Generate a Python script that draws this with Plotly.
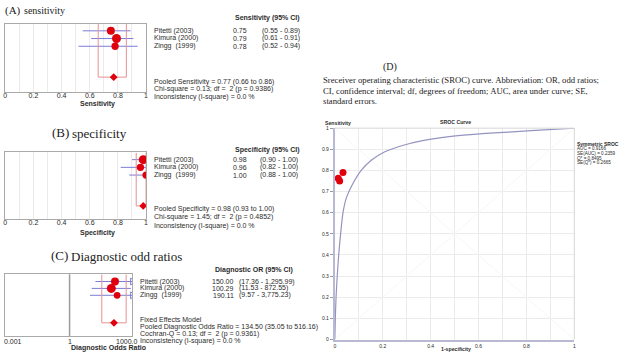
import plotly.graph_objects as go

W, H = 623, 357
def px(x): return x / W
def py(y): return 1 - y / H

# ---------------- data ----------------
studies = ["Pitetti (2003)", "Kimura (2000)", "Zingg  (1999)"]

sens = [0.75, 0.79, 0.78]
sens_lo = [0.55, 0.61, 0.52]
sens_hi = [0.89, 0.91, 0.94]
sens_pool = [0.77, 0.66, 0.86]

spec = [0.98, 0.96, 1.00]
spec_lo = [0.90, 0.82, 0.88]
spec_hi = [1.00, 1.00, 1.00]
spec_pool = [0.98, 0.93, 1.00]

dor = [150.00, 100.29, 190.11]
dor_lo = [17.36, 11.53, 9.57]
dor_hi = [1295.99, 872.55, 3775.23]
dor_pool = [134.50, 35.05, 516.16]

sroc_curve_fpr = [0.0, 0.002, 0.005, 0.01, 0.016, 0.024, 0.034, 0.048, 0.069, 0.11,
                  0.152, 0.207, 0.283, 0.366, 0.477, 0.63, 0.82, 1.0]
sroc_curve_sens = [0.0, 0.1, 0.2, 0.3, 0.4, 0.5, 0.6, 0.67, 0.724, 0.80,
                   0.848, 0.887, 0.918, 0.941, 0.96, 0.975, 0.988, 1.0]
sroc_pt_fpr = [0.02, 0.034, 0.014]
sroc_pt_sens = [0.75, 0.79, 0.763]

sroc_stats = ["AUC = 0.9166", "SE(AUC) = 0.2359", "Q* = 0.8495", "SE(Q*) = 0.2665"]

# ---------------- styles ----------------
RED = "#e0000b"
CI = "#7c7cd6"
POOLBOX = "#e79191"
FRAME = "#a9a9a9"
GRID = "#ebebeb"
TXT = "#2b2b2b"
SANS = "Liberation Sans, Arial, sans-serif"
SERIF = "Liberation Serif, Times New Roman, serif"
size_A = [8, 9, 7.3]
size_B = [9, 7.3, 7.3]
size_C = [8, 9, 6.8]

rows = [0, 1, 2]
POOL_ROW = 6

fig = go.Figure()

def forest(xn, yn, vals, lo, hi, pool, sizes, ytop, xmax=None):
    for i in rows:
        h = hi[i] if xmax is None else min(hi[i], xmax)
        fig.add_trace(go.Scatter(x=[lo[i], h], y=[i, i], mode="lines",
                                 line=dict(color=CI, width=1), xaxis=xn, yaxis=yn,
                                 showlegend=False, hoverinfo="skip"))
        if xmax is not None and hi[i] > xmax:
            fig.add_trace(go.Scatter(x=[xmax], y=[i], mode="markers",
                                     marker=dict(symbol="triangle-right-open", size=6,
                                                 color=CI, line=dict(width=1)),
                                     xaxis=xn, yaxis=yn, showlegend=False, hoverinfo="skip"))
    fig.add_trace(go.Scatter(x=[pool[1], pool[1], pool[2], pool[2]],
                             y=[ytop, POOL_ROW, POOL_ROW, ytop], mode="lines",
                             line=dict(color=POOLBOX, width=1), xaxis=xn, yaxis=yn,
                             showlegend=False, hoverinfo="skip"))
    fig.add_trace(go.Scatter(x=vals, y=rows, mode="markers",
                             marker=dict(color=RED, size=sizes, opacity=1, line=dict(width=0)),
                             xaxis=xn, yaxis=yn, showlegend=False, hoverinfo="skip"))
    fig.add_trace(go.Scatter(x=[pool[0]], y=[POOL_ROW], mode="markers",
                             marker=dict(color=RED, size=6, opacity=1, symbol="diamond", line=dict(width=0)),
                             xaxis=xn, yaxis=yn, showlegend=False, hoverinfo="skip"))

yrA = [7.95, -0.93]
yrB = [7.73, -0.93]
yrC = [7.96, -1.04]

forest("x", "y", sens, sens_lo, sens_hi, sens_pool, size_A, yrA[1])
forest("x2", "y2", spec, spec_lo, spec_hi, spec_pool, size_B, yrB[1])
forest("x3", "y3", dor, dor_lo, dor_hi, dor_pool, size_C, yrC[1], xmax=1000)

# SROC
for xs, ys in (([0, 1], [0, 1]), ([0, 1], [1, 0])):
    fig.add_trace(go.Scatter(x=xs, y=ys, mode="lines", line=dict(color="#f6f6f6", width=1),
                             xaxis="x4", yaxis="y4", showlegend=False, hoverinfo="skip"))
fig.add_trace(go.Scatter(x=sroc_curve_fpr, y=sroc_curve_sens, mode="lines",
                         line=dict(color="#9494c0", width=1.2, shape="spline", smoothing=0.5),
                         xaxis="x4", yaxis="y4", showlegend=False, hoverinfo="skip"))
fig.add_trace(go.Scatter(x=sroc_pt_fpr, y=sroc_pt_sens, mode="markers",
                         marker=dict(color=RED, size=7, opacity=1, line=dict(width=0)),
                         xaxis="x4", yaxis="y4", showlegend=False, hoverinfo="skip"))

tickf = dict(family=SANS, size=7, color=TXT)
frame_ax = dict(showline=True, mirror=True, linecolor=FRAME, linewidth=1, zeroline=False)

def lin_x(dom):
    return dict(domain=dom, range=[0, 1], dtick=0.2, tick0=0, showgrid=True, gridcolor=GRID,
                gridwidth=1, minor=dict(dtick=0.1, showgrid=True, gridcolor=GRID),
                ticks="", tickfont=tickf, ticklabelstandoff=-4, fixedrange=True, **frame_ax)

def row_y(dom, rng, xa):
    return dict(domain=dom, range=rng, showgrid=False, showticklabels=False, ticks="",
                anchor=xa, **frame_ax)

fig.update_layout(
    width=W, height=H, margin=dict(l=0, r=0, t=0, b=0),
    paper_bgcolor="white", plot_bgcolor="white", showlegend=False,
    xaxis=dict(**lin_x([px(3.3), px(145)]), anchor="y"),
    yaxis=row_y([py(90.7), py(21)], yrA, "x"),
    xaxis2=dict(**lin_x([px(3.3), px(145)]), anchor="y2"),
    yaxis2=row_y([py(220), py(152)], yrB, "x2"),
    xaxis3=dict(domain=[px(3), px(131)], type="log", range=[-3.095, 3.0],
                showgrid=False, showticklabels=False, ticks="", anchor="y3", **frame_ax),
    yaxis3=row_y([py(339), py(276)], yrC, "x3"),
    xaxis4=dict(domain=[px(335), px(576)], range=[0, 1], dtick=0.2, tick0=0,
                showgrid=True, gridcolor=GRID, minor=dict(dtick=0.1, showgrid=True, gridcolor=GRID),
                showline=True, linecolor="#b9b9d3", linewidth=2, zeroline=False,
                ticks="", tickfont=dict(family=SANS, size=5, color=TXT), anchor="y4"),
    yaxis4=dict(domain=[py(342.3), py(127.3)], range=[0, 1], dtick=0.1, tick0=0,
                showgrid=True, gridcolor=GRID, showline=True, linecolor="#b9b9d3", linewidth=2,
                zeroline=False, ticks="outside", ticklen=3, tickcolor="#9a9a9a",
                tickfont=dict(family=SANS, size=5, color=TXT), anchor="x4"),
)

fig.add_shape(type="line", xref="x3", yref="y3 domain", x0=1, x1=1, y0=0, y1=1,
              line=dict(color="#9c9c9c", width=1.5), layer="below")
fig.add_shape(type="line", xref="x4 domain", yref="y4 domain", x0=0, x1=1, y0=1, y1=1,
              line=dict(color="#d6d6d6", width=1))
fig.add_shape(type="line", xref="x4 domain", yref="y4 domain", x0=1, x1=1, y0=0, y1=1,
              line=dict(color="#d6d6d6", width=1))

anns = []
def A(text, x, y, size=7, family=SANS, anchor="left", bold=False, color=TXT):
    if bold:
        text = "<b>" + text + "</b>"
    anns.append(dict(text=text, x=px(x), y=py(y), xref="paper", yref="paper",
                     xanchor=anchor, yanchor="middle", showarrow=False,
                     font=dict(family=family, size=size, color=color), borderpad=0))

# titles
A("(A)", 2, 7.5, size=11, family=SERIF, color="#222")
A("sensitivity", 21.5, 8, size=10, family=SERIF, color="#222")
A("(B)", 49.5, 132, size=13, family=SERIF, color="#222")
A("specificity", 69.5, 132.5, size=13, family=SERIF, color="#222")
A("(C)", 48.5, 257, size=13, family=SERIF, color="#222")
A("Diagnostic odd ratios", 68.5, 257.5, size=13, family=SERIF, color="#222")
A("(D)", 382, 65.5, size=10, family=SERIF, color="#222")
A("Sreceiver operating characteristic (SROC) curve. Abbreviation: OR, odd ratios;",
  322, 78.3, size=8.7, family=SERIF, color="#222")
A("CI, confidence interval; df, degrees of freedom; AUC, area under curve; SE,",
  322, 89.3, size=8.7, family=SERIF, color="#222")
A("standard errors.", 322, 99.5, size=8.7, family=SERIF, color="#222")

# panel A text
rowsA = [28.3, 36.1, 44.0]
A("Sensitivity (95% CI)", 233, 15.7, bold=True)
for i, yy in enumerate(rowsA):
    A(studies[i], 152, yy)
    A(f"{sens[i]:.2f}", 247.5, yy, anchor="right")
    A(f"({sens_lo[i]:.2f} - {sens_hi[i]:.2f})", 261, yy)
A(f"Pooled Sensitivity = {sens_pool[0]:.2f} ({sens_pool[1]:.2f} to {sens_pool[2]:.2f})", 152, 80)
A("Chi-square = 0.13; df =  2 (p = 0.9386)", 152, 87.8)
A("Inconsistency (I-square) = 0.0 %", 152, 95.6)
A("Sensitivity", 77, 102.7, bold=True)

# panel B text
rowsB = [159.3, 167.2, 175.0]
A("Specificity (95% CI)", 233, 149.3, bold=True)
for i, yy in enumerate(rowsB):
    A(studies[i], 152, yy)
    A(f"{spec[i]:.2f}", 247.5, yy, anchor="right")
    A(f"({spec_lo[i]:.2f} - {spec_hi[i]:.2f})", 259, yy)
A(f"Pooled Specificity = {spec_pool[0]:.2f} ({spec_pool[1]:.2f} to {spec_pool[2]:.2f})", 152, 210)
A("Chi-square = 1.45; df =  2 (p = 0.4852)", 152, 218)
A("Inconsistency (I-square) = 0.0 %", 152, 226.5)
A("Specificity", 77, 234.3, bold=True)

# panel C text
rowsC = [283.3, 290.3, 297.3]
A("Diagnostic OR (95% CI)", 213, 271.7, bold=True)
for i, yy in enumerate(rowsC):
    A(studies[i], 138.3, yy)
    A(f"{dor[i]:.2f}", 235, yy, anchor="right")
    A(f"({dor_lo[i]:,.2f} - {dor_hi[i]:,.2f})", 237.5, yy)
A("Fixed Effects Model", 138.3, 321.7)
A(f"Pooled Diagnostic Odds Ratio = {dor_pool[0]:.2f} ({dor_pool[1]:.2f} to {dor_pool[2]:.2f})", 138.3, 329.3)
A("Cochran-Q = 0.13; df =  2 (p = 0.9361)", 138.3, 336.7)
A("Inconsistency (I-square) = 0.0 %", 138.3, 344)
A("0.001", 1.5, 344)
A("1", 68, 344, anchor="center")
A("1000.0", 137.5, 344, anchor="right")
A("Diagnostic Odds Ratio", 68, 350.7, bold=True)

# SROC text
A("Sensitivity", 324, 122, size=5.2, bold=True)
A("SROC Curve", 456, 121.5, size=5.2, bold=True, anchor="center")
A("1-specificity", 456.7, 352.3, size=5.2, bold=True, anchor="center")
A("Symmetric SROC", 578, 143.0, size=5.0, bold=True)
for k, s in enumerate(sroc_stats):
    A(s, 578, 148.3 + 4.8 * k, size=4.6)

fig.update_layout(annotations=anns)
fig.write_html("out.html")
